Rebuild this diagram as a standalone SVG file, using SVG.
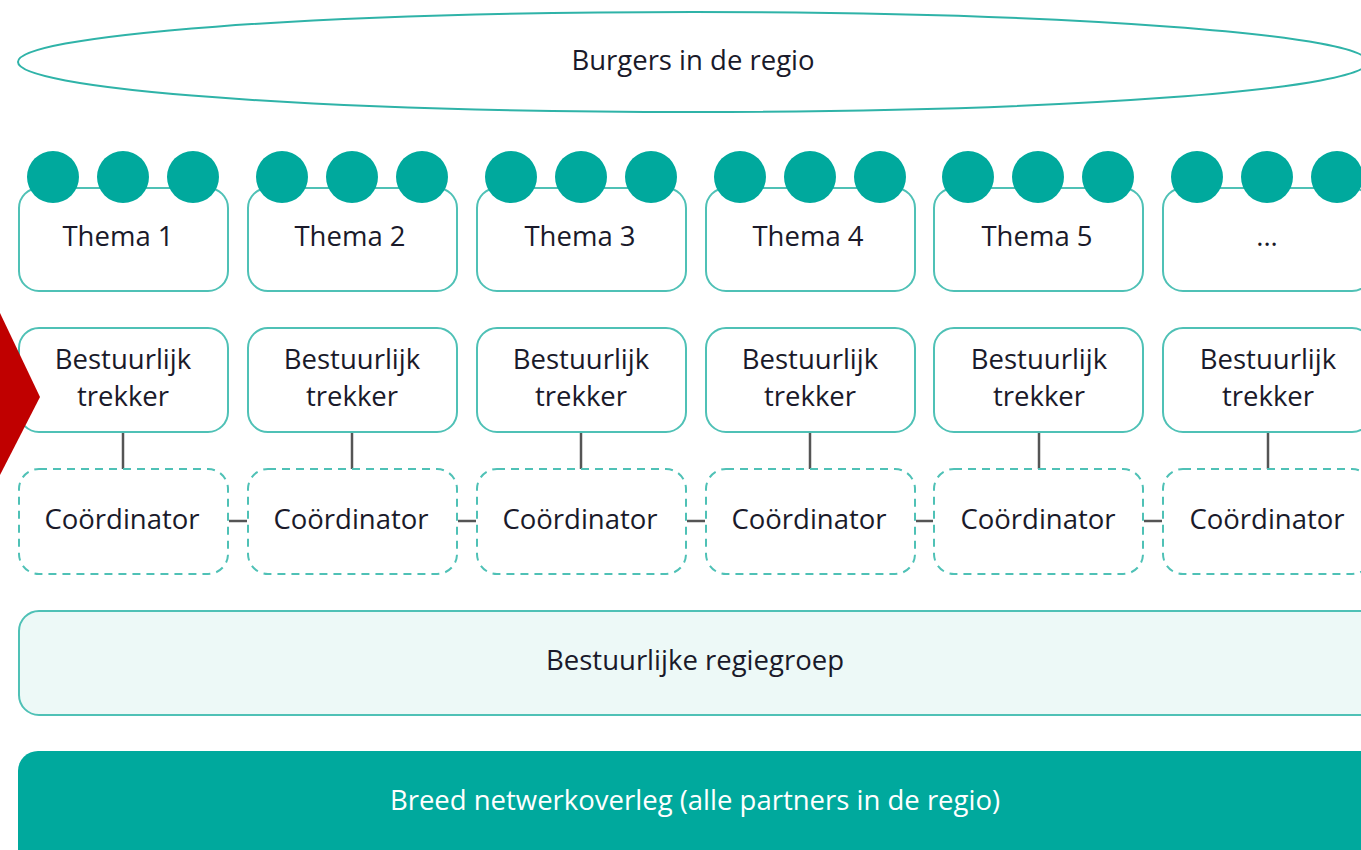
<svg xmlns="http://www.w3.org/2000/svg" width="1361" height="850" viewBox="0 0 1361 850">
<style>
.t{font-family:"Open Sans","Liberation Sans",sans-serif;font-size:27.5px;font-weight:500;fill:#1a1a2a;text-anchor:middle}
.box{fill:#fff;stroke:#4fc1b6;stroke-width:2}
.dbox{fill:#fff;stroke:#4fc1b6;stroke-width:2;stroke-dasharray:8 6}
.dot{fill:#00a99d}
.con{stroke:#555;stroke-width:2.5;fill:none}
</style>
<defs>
<g id="dots"><circle class="dot" cx="34" cy="-11" r="26"/><circle class="dot" cx="104" cy="-11" r="26"/><circle class="dot" cx="174" cy="-11" r="26"/></g>
</defs>
<g id="burgers"><ellipse cx="693" cy="62" rx="675" ry="50" fill="#fff" stroke="#2fb3a8" stroke-width="2"/><text class="t" x="693" y="70">Burgers in de regio</text></g>
<g id="themas">
<g id="thema1"><rect class="box" x="19" y="188" width="209" height="103" rx="20"/><use href="#dots" transform="translate(19,188)"/><text class="t" x="118" y="246">Thema 1</text></g>
<g id="thema2"><rect class="box" x="248" y="188" width="209" height="103" rx="20"/><use href="#dots" transform="translate(248,188)"/><text class="t" x="350" y="246">Thema 2</text></g>
<g id="thema3"><rect class="box" x="477" y="188" width="209" height="103" rx="20"/><use href="#dots" transform="translate(477,188)"/><text class="t" x="580" y="246">Thema 3</text></g>
<g id="thema4"><rect class="box" x="706" y="188" width="209" height="103" rx="20"/><use href="#dots" transform="translate(706,188)"/><text class="t" x="808" y="246">Thema 4</text></g>
<g id="thema5"><rect class="box" x="934" y="188" width="209" height="103" rx="20"/><use href="#dots" transform="translate(934,188)"/><text class="t" x="1037" y="246">Thema 5</text></g>
<g id="thema6"><rect class="box" x="1163" y="188" width="209" height="103" rx="20"/><use href="#dots" transform="translate(1163,188)"/><text class="t" x="1267" y="246">...</text></g>
</g>
<g id="connectors">
<line class="con" x1="123" y1="433" x2="123" y2="469"/>
<line class="con" x1="352" y1="433" x2="352" y2="469"/>
<line class="con" x1="581" y1="433" x2="581" y2="469"/>
<line class="con" x1="810" y1="433" x2="810" y2="469"/>
<line class="con" x1="1039" y1="433" x2="1039" y2="469"/>
<line class="con" x1="1268" y1="433" x2="1268" y2="469"/>
<line class="con" x1="229" y1="521" x2="247" y2="521"/>
<line class="con" x1="458" y1="521" x2="476" y2="521"/>
<line class="con" x1="687" y1="521" x2="705" y2="521"/>
<line class="con" x1="916" y1="521" x2="933" y2="521"/>
<line class="con" x1="1144" y1="521" x2="1162" y2="521"/>
</g>
<g id="trekkers">
<g id="trekker1"><rect class="box" x="19" y="328" width="209" height="104" rx="20"/><text class="t" x="123" y="369">Bestuurlijk</text><text class="t" x="123" y="406">trekker</text></g>
<g id="trekker2"><rect class="box" x="248" y="328" width="209" height="104" rx="20"/><text class="t" x="352" y="369">Bestuurlijk</text><text class="t" x="352" y="406">trekker</text></g>
<g id="trekker3"><rect class="box" x="477" y="328" width="209" height="104" rx="20"/><text class="t" x="581" y="369">Bestuurlijk</text><text class="t" x="581" y="406">trekker</text></g>
<g id="trekker4"><rect class="box" x="706" y="328" width="209" height="104" rx="20"/><text class="t" x="810" y="369">Bestuurlijk</text><text class="t" x="810" y="406">trekker</text></g>
<g id="trekker5"><rect class="box" x="934" y="328" width="209" height="104" rx="20"/><text class="t" x="1039" y="369">Bestuurlijk</text><text class="t" x="1039" y="406">trekker</text></g>
<g id="trekker6"><rect class="box" x="1163" y="328" width="209" height="104" rx="20"/><text class="t" x="1268" y="369">Bestuurlijk</text><text class="t" x="1268" y="406">trekker</text></g>
</g>
<g id="coordinators">
<g id="coord1"><rect class="dbox" x="19" y="469" width="209" height="105" rx="20"/><text class="t" x="122" y="529">Coördinator</text></g>
<g id="coord2"><rect class="dbox" x="248" y="469" width="209" height="105" rx="20"/><text class="t" x="351" y="529">Coördinator</text></g>
<g id="coord3"><rect class="dbox" x="477" y="469" width="209" height="105" rx="20"/><text class="t" x="580" y="529">Coördinator</text></g>
<g id="coord4"><rect class="dbox" x="706" y="469" width="209" height="105" rx="20"/><text class="t" x="809" y="529">Coördinator</text></g>
<g id="coord5"><rect class="dbox" x="934" y="469" width="209" height="105" rx="20"/><text class="t" x="1038" y="529">Coördinator</text></g>
<g id="coord6"><rect class="dbox" x="1163" y="469" width="209" height="105" rx="20"/><text class="t" x="1267" y="529">Coördinator</text></g>
</g>
<g id="regiegroep"><rect x="19" y="611" width="1370" height="104" rx="20" fill="#edf9f7" stroke="#4fc1b6" stroke-width="2"/><text class="t" x="695" y="670">Bestuurlijke regiegroep</text></g>
<g id="netwerk"><rect x="18" y="751" width="1370" height="130" rx="20" fill="#00a99d"/><text class="t" x="695" y="810" style="fill:#fff;font-weight:400">Breed netwerkoverleg (alle partners in de regio)</text></g>
<g id="pijl"><polygon points="0,313 40,397 0,475" fill="#c00000"/></g>
</svg>
